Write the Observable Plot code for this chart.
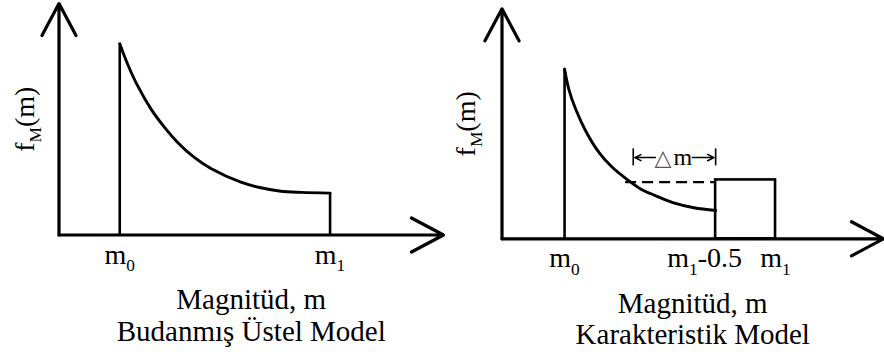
<!DOCTYPE html>
<html>
<head>
<meta charset="utf-8">
<script src="https://cdn.jsdelivr.net/npm/d3@7"></script>
<script src="https://cdn.jsdelivr.net/npm/@observablehq/plot@0.6"></script>
<style>
  body { margin: 0; background: #fff; }
  #row { display: flex; width: 884px; height: 355px; }
  #row svg { display: block; background: #fff; }
  #row svg text, #row svg tspan { font-family: "Liberation Serif", "DejaVu Serif", "Times New Roman", serif !important; }
  #row svg text.symbol, #row svg text.symbol tspan { font-family: "DejaVu Sans", sans-serif !important; }
</style>
</head>
<body>
<div id="row"></div>
<script>
// Both panels use the same abstract units: the axes run 0..10 in magnitude (x) and density (y).

// Truncated exponential model (Budanmış Üstel Model)
const truncM = [1.58, 1.78, 2.04, 2.39, 2.74, 3.08, 3.51, 3.95, 4.73, 5.25, 5.77, 6.29, 7.05];
const truncF = [8.26, 7.40, 6.46, 5.45, 4.66, 4.01, 3.36, 2.87, 2.28, 2.04, 1.89, 1.84, 1.81];
const truncTickValues = [1.58, 7.05];
const truncTickLabels = ["m_{0}", "m_{1}"];

// Characteristic model (Karakteristik Model)
const charM = [1.64, 1.75, 1.93, 2.19, 2.54, 2.89, 3.32, 3.63, 4.02, 4.50, 5.03, 5.60];
const charF = [7.38, 6.51, 5.64, 4.70, 3.76, 3.11, 2.53, 2.17, 1.88, 1.56, 1.35, 1.23];
const charTickValues = [1.64, 5.60, 7.17];
const charTickLabels = ["m_{0}", "m_{1}-0.5", "m_{1}"];
const charBox = {m1: 5.60, m2: 7.17, f: 2.56};   // characteristic earthquake box
const charDash = {m1: 3.24, m2: 5.60, f: 2.46};  // level of the box carried back over the curve
const deltaBars = [3.44, 5.60];                  // extent of Δm
const deltaLevel = 3.53;
const deltaTextEdges = [4.02, 4.99];             // where the Δm arrows leave the label

const axisLabel = "f_{M}(m)";
const xTitle = "Magnitüd, m";
const truncTitle = "Budanmış Üstel Model";
const charTitle = "Karakteristik Model";

const zip = (xs, ys) => xs.map((x, i) => ({x, y: ys[i]}));
const ticks = (values, labels) => values.map((x, i) => ({x, label: labels[i]}));
const axes = [{x1: 0, y1: 0, x2: 0, y2: 10}, {x1: 0, y1: 0, x2: 10, y2: 0}];

// Turn "a_{b}c" into text with a lowered, smaller "b".
function setSubscripts(svg) {
  svg.querySelectorAll("text").forEach(node => {
    const s = node.textContent;
    if (s === "△") node.setAttribute("class", "symbol");
    if (!s.includes("_{")) return;
    const parts = s.split(/_\{(.*?)\}/);
    node.textContent = "";
    let afterSub = false;
    parts.forEach((p, i) => {
      if (p === "") return;
      const t = document.createElementNS("http://www.w3.org/2000/svg", "tspan");
      t.textContent = p;
      if (i % 2) {
        t.setAttribute("font-size", "0.62em");
        t.setAttribute("dy", "0.42em");
        afterSub = true;
      } else if (afterSub) {
        t.setAttribute("dy", "-0.26em");
        afterSub = false;
      }
      node.appendChild(t);
    });
  });
  return svg;
}

const txt = {fill: "black"};

function axesMarks() {
  return [
    Plot.arrow(axes, {x1: "x1", y1: "y1", x2: "x2", y2: "y2", stroke: "black", strokeWidth: 3.2, headLength: 17, headAngle: 56})
  ];
}

// Left panel: truncated exponential
const left = Plot.plot({
  width: 450,
  height: 355,
  margin: 0,
  x: {domain: [0, 10], range: [58.5, 443], axis: null},
  y: {domain: [0, 10], range: [234.5, 3], axis: null},
  marks: [
    ...axesMarks(),
    Plot.ruleX([truncM[0]], {y1: 0, y2: truncF[0], stroke: "black", strokeWidth: 2.6}),
    Plot.ruleX([truncM[truncM.length - 1]], {y1: 0, y2: truncF[truncF.length - 1], stroke: "black", strokeWidth: 2.6}),
    Plot.line(zip(truncM, truncF), {x: "x", y: "y", curve: "catmull-rom", stroke: "black", strokeWidth: 2.9}),
    Plot.text(ticks(truncTickValues, truncTickLabels), {x: "x", y: 0, text: "label", dy: 28.5, lineAnchor: "bottom", fontSize: 28, ...txt}),
    Plot.text([axisLabel], {x: 0, y: 5, text: d => d, rotate: -90, dx: -25, lineAnchor: "bottom", fontSize: 28, ...txt}),
    Plot.text([xTitle + "\n" + truncTitle], {x: 5, y: 0, text: d => d, dy: 105.5, lineAnchor: "bottom", lineHeight: 1.1, fontSize: 29, ...txt})
  ]
});

// Right panel: characteristic model
const right = Plot.plot({
  width: 434,
  height: 355,
  margin: 0,
  x: {domain: [0, 10], range: [51.5, 433], axis: null},
  y: {domain: [0, 10], range: [238.3, 8.3], axis: null},
  marks: [
    ...axesMarks(),
    Plot.ruleX([charM[0]], {y1: 0, y2: charF[0], stroke: "black", strokeWidth: 2.6}),
    Plot.rect([charBox], {x1: "m1", x2: "m2", y1: 0, y2: "f", fill: "none", stroke: "black", strokeWidth: 2.6}),
    Plot.line(zip(charM, charF), {x: "x", y: "y", curve: "catmull-rom", stroke: "black", strokeWidth: 2.9}),
    Plot.ruleY([charDash], {x1: "m1", x2: "m2", y: "f", stroke: "black", strokeWidth: 2.2, strokeDasharray: "11,6"}),
    // Δm dimension
    Plot.ruleX(deltaBars, {y1: deltaLevel - 0.36, y2: deltaLevel + 0.38, stroke: "black", strokeWidth: 1.6}),
    Plot.arrow([{a: deltaTextEdges[0], b: deltaBars[0] + 0.04}, {a: deltaTextEdges[1], b: deltaBars[1] - 0.04}],
      {x1: "a", x2: "b", y1: deltaLevel, y2: deltaLevel, stroke: "black", strokeWidth: 1.5, headLength: 13, headAngle: 52}),
    Plot.text(["△"], {x: 4.22, y: deltaLevel, text: d => d, dy: 7.5, lineAnchor: "bottom", fontSize: 22, fill: "#555"}),
    Plot.text(["m"], {x: 4.74, y: deltaLevel, text: d => d, dy: 7.5, lineAnchor: "bottom", fontSize: 24, ...txt}),
    // tick labels
    Plot.text(ticks(charTickValues, charTickLabels).filter(d => d.label !== "m_{1}-0.5"), {x: "x", y: 0, text: "label", dy: 28.5, lineAnchor: "bottom", fontSize: 28, ...txt}),
    Plot.text(ticks(charTickValues, charTickLabels).filter(d => d.label === "m_{1}-0.5"), {x: "x", y: 0, text: "label", dx: -11, dy: 28.5, lineAnchor: "bottom", fontSize: 28, ...txt}),
    Plot.text([axisLabel], {x: 0, y: 5, text: d => d, rotate: -90, dx: -27, lineAnchor: "bottom", fontSize: 28, ...txt}),
    Plot.text([xTitle + "\n" + charTitle], {x: 5, y: 0, text: d => d, dy: 105, lineAnchor: "bottom", lineHeight: 1.07, fontSize: 29, ...txt})
  ]
});

const row = document.getElementById("row");
row.appendChild(setSubscripts(left));
row.appendChild(setSubscripts(right));
</script>
</body>
</html>
